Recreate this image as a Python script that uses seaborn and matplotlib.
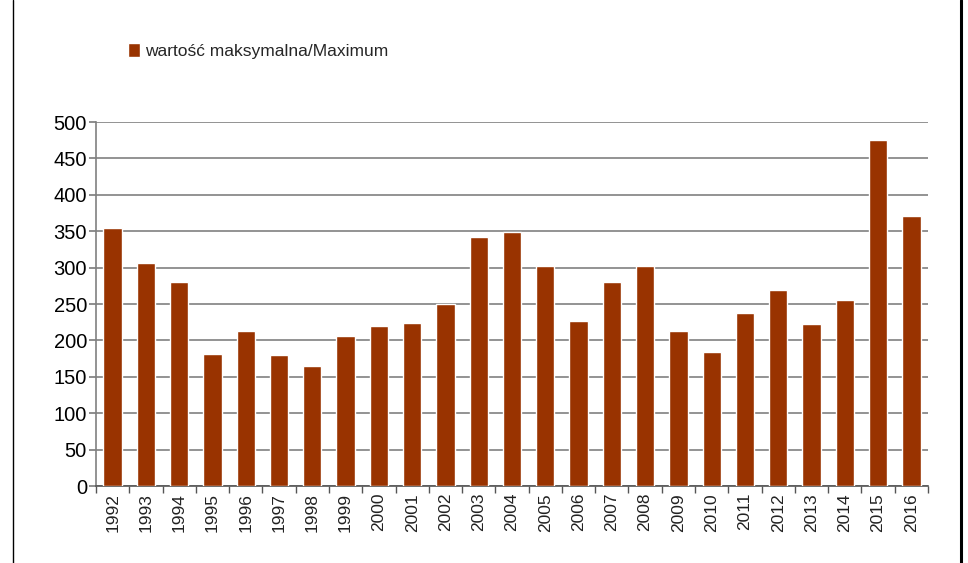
import matplotlib
matplotlib.use("Agg")
import matplotlib.pyplot as plt
from matplotlib.lines import Line2D
import numpy as np
import pandas as pd
import seaborn as sns

years = [str(y) for y in range(1992, 2017)]
maximum = [354, 307, 280, 181, 213, 180, 165, 206, 220, 224, 250, 342, 349,
           302, 227, 280, 302, 213, 184, 237, 269, 222, 255, 475, 371]
series_label = "wartość maksymalna/Maximum"
bar_color = "#993300"
grid_color = "#808080"

df = pd.DataFrame({"year": years, "value": maximum})

sns.set_theme(style="white")
plt.rcParams["font.family"] = ["Liberation Sans", "DejaVu Sans"]

fig = plt.figure(figsize=(9.68, 5.63), dpi=100)
ax = fig.add_axes([96 / 968, 1 - 486 / 563, (928 - 96) / 968, (486 - 122) / 563])

sns.barplot(data=df, x="year", y="value", color=bar_color, width=0.55,
            saturation=1, label=series_label, ax=ax, zorder=3)

ax.set_xlim(-0.5, len(years) - 0.5)
ax.set_ylim(0, 500)
ax.set_yticks(np.arange(0, 501, 50))
ax.yaxis.grid(True, color=grid_color, linewidth=1.2, zorder=0)
ax.set_xlabel("")
ax.set_ylabel("")

for side in ["top", "right"]:
    ax.spines[side].set_visible(False)
ax.spines["left"].set_color(grid_color)
ax.spines["bottom"].set_color("#555555")
ax.spines["left"].set_linewidth(1.2)
ax.spines["bottom"].set_linewidth(1.2)

ax.tick_params(axis="y", left=True, length=5, color=grid_color, labelsize=14.5,
               pad=1.5, labelcolor="black")
ax.tick_params(axis="x", which="major", bottom=False, length=0, labelsize=12.5,
               labelrotation=90, pad=5, labelcolor="#222222")
ax.set_xticks(np.arange(-0.5, len(years), 1), minor=True)
ax.tick_params(axis="x", which="minor", bottom=True, length=5, color="#555555")

ax.legend(loc="center left", bbox_to_anchor=(112 / 968, 1 - 51 / 563),
          bbox_transform=fig.transFigure, frameon=False, fontsize=12.5,
          handlelength=0.7, handleheight=0.9, handletextpad=0.3)

# outer frame lines of the original chart box
fig.add_artist(Line2D([13 / 968, 13 / 968], [0, 1], color="black", linewidth=1))
fig.add_artist(Line2D([961 / 968, 961 / 968], [0, 1], color="black", linewidth=2.2))

fig.savefig("out.png", dpi=100)
